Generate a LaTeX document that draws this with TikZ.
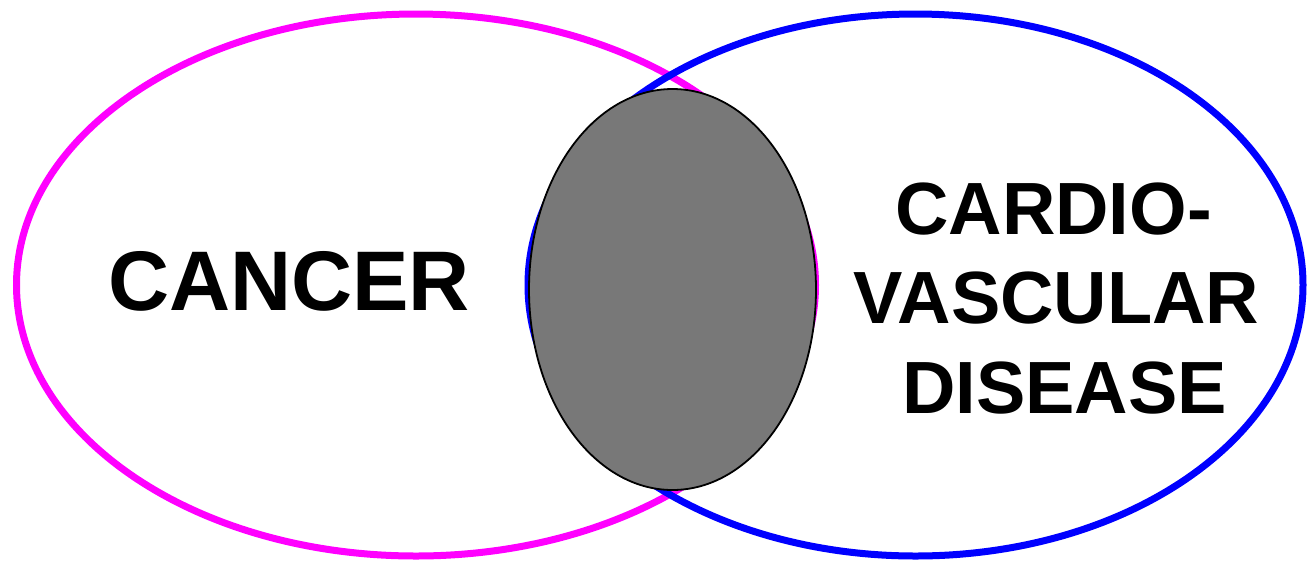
\documentclass[tikz,border=0pt]{standalone}
\usepackage{fontspec}
\setmainfont{Liberation Sans}
\usetikzlibrary{positioning}
\definecolor{cancerpink}{HTML}{FF00FF}
\definecolor{cvdblue}{HTML}{0000FF}
\definecolor{overlapgrey}{HTML}{787878}
\tikzset{
  ring/.style={line width=3.5pt},
  cancerring/.style={ring,draw=cancerpink},
  cvdring/.style={ring,draw=cvdblue},
  overlap/.style={fill=overlapgrey,draw=black,line width=.9pt},
  biglabel/.style={font=\bfseries\fontsize{42.3}{50}\selectfont,inner sep=0pt},
  stackline/.style={font=\bfseries\fontsize{37}{44}\selectfont,inner sep=0pt,anchor=base}}
\begin{document}
\begin{tikzpicture}[x=.5pt,y=-.5pt]
\useasboundingbox (0,0) rectangle (1308,564);
% two disease sets, blue drawn over pink
\draw[cancerring] (416,285) ellipse [x radius=199.75pt, y radius=135.5pt];
\draw[cvdring] (915.5,285) ellipse [x radius=193.75pt, y radius=135.5pt];
% shared region
\draw[overlap] (672.5,289.5) ellipse [x radius=71.75pt, y radius=100.25pt];
\node[biglabel] (cancer) at (289,281) {CANCER};
\node[stackline] (cardio) at (1053.5,234) {CARDIO-};
\node[stackline] (vascular) at (1056.5,323) {VASCULAR};
\node[stackline] (disease) at (1064.5,413) {DISEASE};
\end{tikzpicture}
\end{document}
